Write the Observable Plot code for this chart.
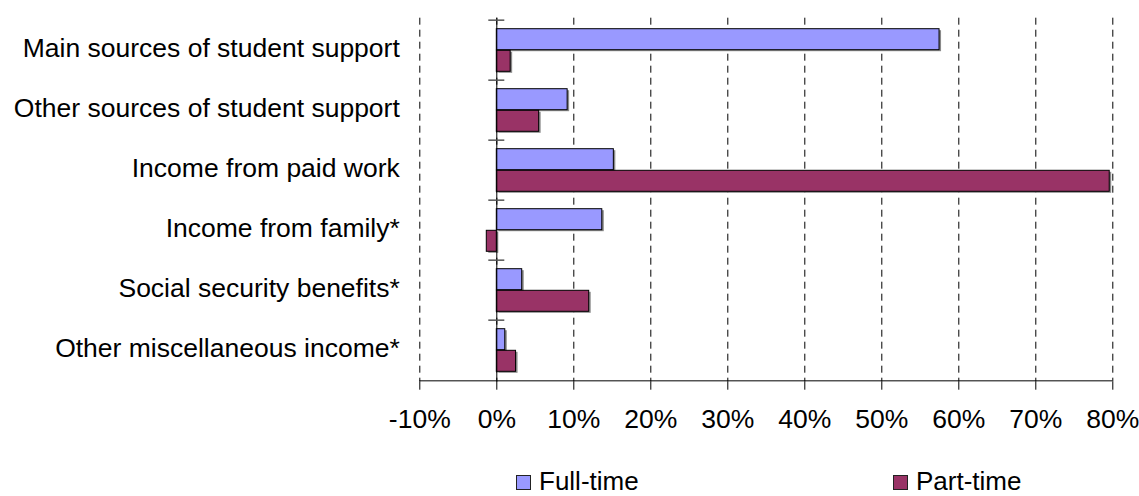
<!DOCTYPE html>
<html>
<head>
<meta charset="utf-8">
<script src="https://cdn.jsdelivr.net/npm/d3@7"></script>
<script src="https://cdn.jsdelivr.net/npm/@observablehq/plot@0.6"></script>
<style>
  html, body { margin: 0; padding: 0; background: #fff; overflow: hidden; }
  #chart { position: relative; width: 1139px; height: 496px; font-family: "Liberation Sans", Arial, sans-serif; }
  #legend { position: relative; width: 1139px; height: 56px; }
  #legend .sw { position: absolute; width: 15px; height: 15px; box-sizing: border-box; border: 1px solid #222; }
  #legend .lb { position: absolute; font-size: 26px; line-height: 20px; height: 20px; color: #000; white-space: nowrap; }
</style>
</head>
<body>
<div id="chart"></div>
<script>
// ---- data ----
const categories = [
  "Main sources of student support",
  "Other sources of student support",
  "Income from paid work",
  "Income from family*",
  "Social security benefits*",
  "Other miscellaneous income*"
];
const fullTime = [57.5, 9.2, 15.2, 13.7, 3.3, 1.1];
const partTime = [1.8, 5.5, 79.6, -1.3, 12.0, 2.5];
const seriesNames = ["Full-time", "Part-time"];
const seriesColors = ["#9999FF", "#993366"];
const xTicks = [-10, 0, 10, 20, 30, 40, 50, 60, 70, 80];

// ---- layout ----
const W = 1139, H = 440;
const mTop = 17.7, mBottom = H - 381.7, mLeft = 419.3, mRight = W - 1112.3;
const step = (H - mTop - mBottom) / categories.length;

const ftRows = categories.map((c, i) => ({category: c, series: seriesNames[0], value: fullTime[i]}));
const ptRows = categories.map((c, i) => ({category: c, series: seriesNames[1], value: partTime[i]}));

const ftInset = {insetTop: 8.7, insetBottom: 30.3};
const ptInset = {insetTop: 30.3, insetBottom: 8.7};

const plot = Plot.plot({
  width: W,
  height: H,
  marginTop: mTop,
  marginBottom: mBottom,
  marginLeft: mLeft,
  marginRight: mRight,
  style: {fontSize: "26.5px", fontFamily: "'Liberation Sans', Arial, sans-serif", color: "#000", background: "#fff"},
  x: {domain: [-10, 80]},
  y: {domain: categories, padding: 0},
  color: {domain: seriesNames, range: seriesColors},
  marks: [
    Plot.gridX(xTicks, {stroke: "#000", strokeOpacity: 1, strokeWidth: 1, strokeDasharray: "7,5"}),
    // drop shadows
    Plot.barX(ftRows, {x: "value", y: "category", fill: "#8a8a8a", dx: 2, dy: 1.5, ...ftInset}),
    Plot.barX(ptRows, {x: "value", y: "category", fill: "#8a8a8a", dx: 2, dy: 1.5, ...ptInset}),
    // bars
    Plot.barX(ftRows, {x: "value", y: "category", fill: "series", stroke: "#000", strokeWidth: 1, ...ftInset}),
    Plot.barX(ptRows, {x: "value", y: "category", fill: "series", stroke: "#000", strokeWidth: 1, ...ptInset}),
    // category axis line at 0
    Plot.ruleX([0], {stroke: "#000", strokeWidth: 1}),
    // category boundary ticks
    Plot.ruleY(categories, {y: d => d, x1: 0, x2: 0, insetLeft: -8, insetRight: -8, dy: -step / 2, stroke: "#555", strokeWidth: 1.5}),
    // bottom axis line
    Plot.ruleY([categories[categories.length - 1]], {y: d => d, dy: step / 2, stroke: "#000", strokeWidth: 1}),
    Plot.axisX({ticks: xTicks, tickFormat: d => d + "%", tickSize: 8, tickPadding: 19, label: null}),
    Plot.axisY({tickSize: 0, tickPadding: 20, dy: -1.5, label: null})
  ]
});

const chart = document.getElementById("chart");
chart.appendChild(plot);

// ---- legend (below the SVG) ----
const legend = document.createElement("div");
legend.id = "legend";
const legendItems = [
  {name: seriesNames[0], color: seriesColors[0], sw: 516, lb: 539},
  {name: seriesNames[1], color: seriesColors[1], sw: 893, lb: 916}
];
for (const it of legendItems) {
  const sw = document.createElement("div");
  sw.className = "sw";
  sw.style.left = it.sw + "px";
  sw.style.top = "35px";
  sw.style.background = it.color;
  legend.appendChild(sw);
  const lb = document.createElement("div");
  lb.className = "lb";
  lb.style.left = it.lb + "px";
  lb.style.top = "30.5px";
  lb.textContent = it.name;
  legend.appendChild(lb);
}
chart.appendChild(legend);
</script>
</body>
</html>
